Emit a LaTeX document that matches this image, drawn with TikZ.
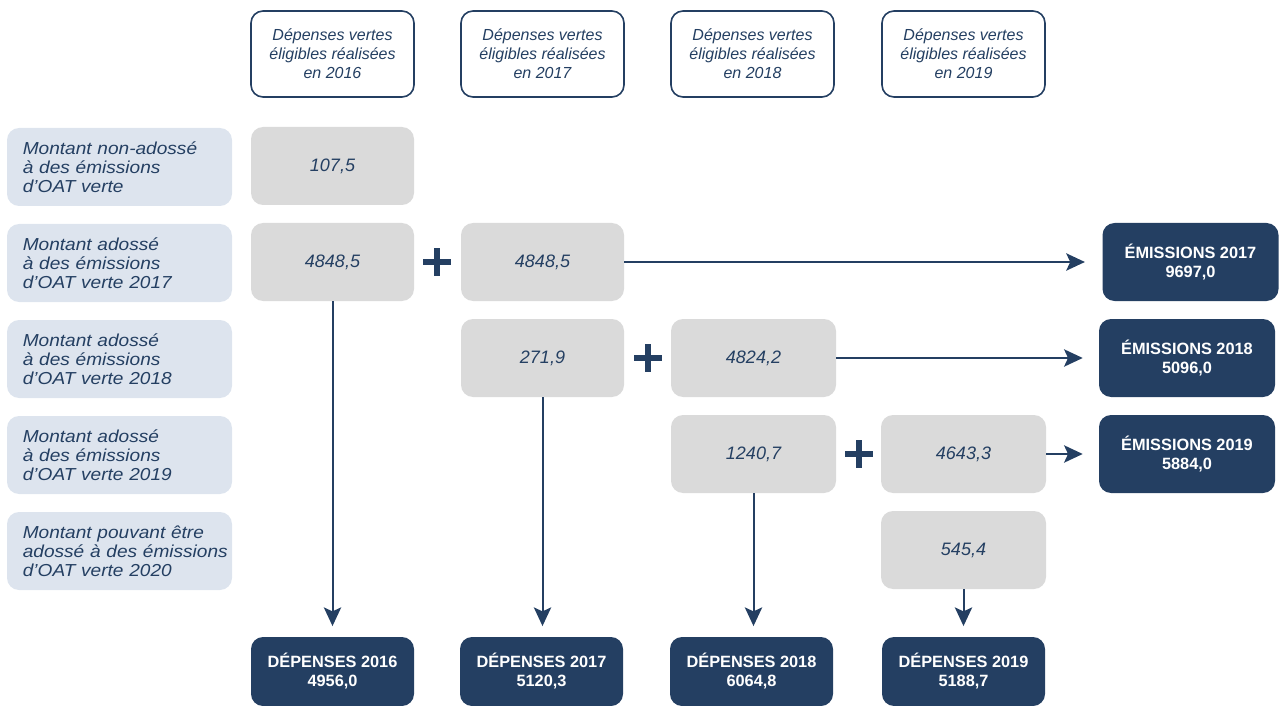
\documentclass[tikz,border=0pt]{standalone}
\usepackage{fontspec}
\setmainfont{Liberation Sans}
\newfontfamily\lblfont{Liberation Sans}[FakeStretch=1.1]
\usetikzlibrary{arrows.meta}
\definecolor{navy}{HTML}{243F62}
\definecolor{grayfill}{HTML}{DADADA}
\definecolor{lblfill}{HTML}{DDE4EE}
\newcommand\lblsetup{\hyphenpenalty=10000\relax\hbadness=10000\relax}
\tikzset{
  header/.style={draw=navy, line width=1.2pt, rounded corners=9pt, fill=white,
    minimum width=122.25pt, minimum height=64.5pt, align=center, text=navy,
    font=\fontsize{12pt}{14.25pt}\selectfont\itshape, inner sep=0pt},
  lbl/.style={fill=lblfill, rounded corners=9pt, minimum width=168.75pt, minimum height=58.5pt,
    text width=145pt, align=left, text=navy, inner sep=0pt,
    font=\lblfont\fontsize{13pt}{14.25pt}\selectfont\itshape\lblsetup},
  val/.style={fill=grayfill, rounded corners=9pt, minimum width=122.25pt, minimum height=58.5pt,
    text=navy, font=\fontsize{13.5pt}{16pt}\selectfont\itshape, inner sep=0pt},
  result/.style={fill=navy, rounded corners=9pt, minimum height=58.5pt, minimum width=132pt,
    text=white, align=center, inner sep=0pt, font=\fontsize{12.25pt}{14.25pt}\selectfont\bfseries},
  spend/.style={result, minimum width=122.25pt, minimum height=51.75pt},
  arr/.style={draw=navy, line width=1.5pt, -{Stealth[length=14pt,width=13pt,inset=3pt]}},
  plussign/.style={minimum size=22pt, inner sep=0pt, path picture={
    \fill[navy] ([xshift=-10.5pt,yshift=-1.9pt]path picture bounding box.center) rectangle ([xshift=10.5pt,yshift=1.9pt]path picture bounding box.center);
    \fill[navy] ([xshift=-1.9pt,yshift=-10.5pt]path picture bounding box.center) rectangle ([xshift=1.9pt,yshift=10.5pt]path picture bounding box.center);}}
}
\begin{document}
\begin{tikzpicture}[x=0.75pt, y=-0.75pt]
\useasboundingbox (0,0) rectangle (1279,706);
% headers
\node[header] (h16) at (332.5,54) {Dépenses vertes\\éligibles réalisées\\en 2016};
\node[header] (h17) at (542.5,54) {Dépenses vertes\\éligibles réalisées\\en 2017};
\node[header] (h18) at (752.5,54) {Dépenses vertes\\éligibles réalisées\\en 2018};
\node[header] (h19) at (963.5,54) {Dépenses vertes\\éligibles réalisées\\en 2019};
% row labels
\node[lbl] (l1) at (119.5,167) {Montant non-adossé\\à des émissions\\d’OAT verte};
\node[lbl] (l2) at (119.5,263) {Montant adossé\\à des émissions\\d’OAT verte 2017};
\node[lbl] (l3) at (119.5,359) {Montant adossé\\à des émissions\\d’OAT verte 2018};
\node[lbl] (l4) at (119.5,455) {Montant adossé\\à des émissions\\d’OAT verte 2019};
\node[lbl] (l5) at (119.5,551) {Montant pouvant être\\\mbox{adossé à des émissions}\\d’OAT verte 2020};
% values
\node[val] (a1) at (332.5,166) {107,5};
\node[val] (a2) at (332.5,262) {4848,5};
\node[val] (b2) at (542.5,262) {4848,5};
\node[val] (b3) at (542.5,358) {271,9};
\node[val, minimum width=123.75pt] (c3) at (753.5,358) {4824,2};
\node[val, minimum width=123.75pt] (c4) at (753.5,454) {1240,7};
\node[val, minimum width=123.75pt] (d4) at (963.5,454) {4643,3};
\node[val, minimum width=123.75pt] (d5) at (963.5,550) {545,4};
% plus signs
\node[plussign] (p1) at (437,262) {};
\node[plussign] (p2) at (648,358) {};
\node[plussign] (p3) at (859,454) {};
% emissions
\node[result] (e17) at (1190.5,262) {ÉMISSIONS 2017\\9697,0};
\node[result] (e18) at (1187,358) {ÉMISSIONS 2018\\5096,0};
\node[result] (e19) at (1187,454) {ÉMISSIONS 2019\\5884,0};
% depenses
\node[spend] (s16) at (332.5,671.5) {DÉPENSES 2016\\4956,0};
\node[spend] (s17) at (541.5,671.5) {DÉPENSES 2017\\5120,3};
\node[spend] (s18) at (751.5,671.5) {DÉPENSES 2018\\6064,8};
\node[spend] (s19) at (963.5,671.5) {DÉPENSES 2019\\5188,7};
% arrows
\draw[arr, shorten >=13pt] (b2.east) -- (e17.west);
\draw[arr, shorten >=12pt] (c3.east) -- (e18.west);
\draw[arr, shorten >=12pt] (d4.east) -- (e19.west);
\draw[arr, shorten >=8pt] (a2.south) -- (s16.north);
\draw[arr, shorten >=8pt] (b3.south) -- (b3.south |- s17.north);
\draw[arr, shorten >=8pt] (c4.south) -- (c4.south |- s18.north);
\draw[arr, shorten >=8pt] (d5.south) -- (s19.north);
\end{tikzpicture}
\end{document}
